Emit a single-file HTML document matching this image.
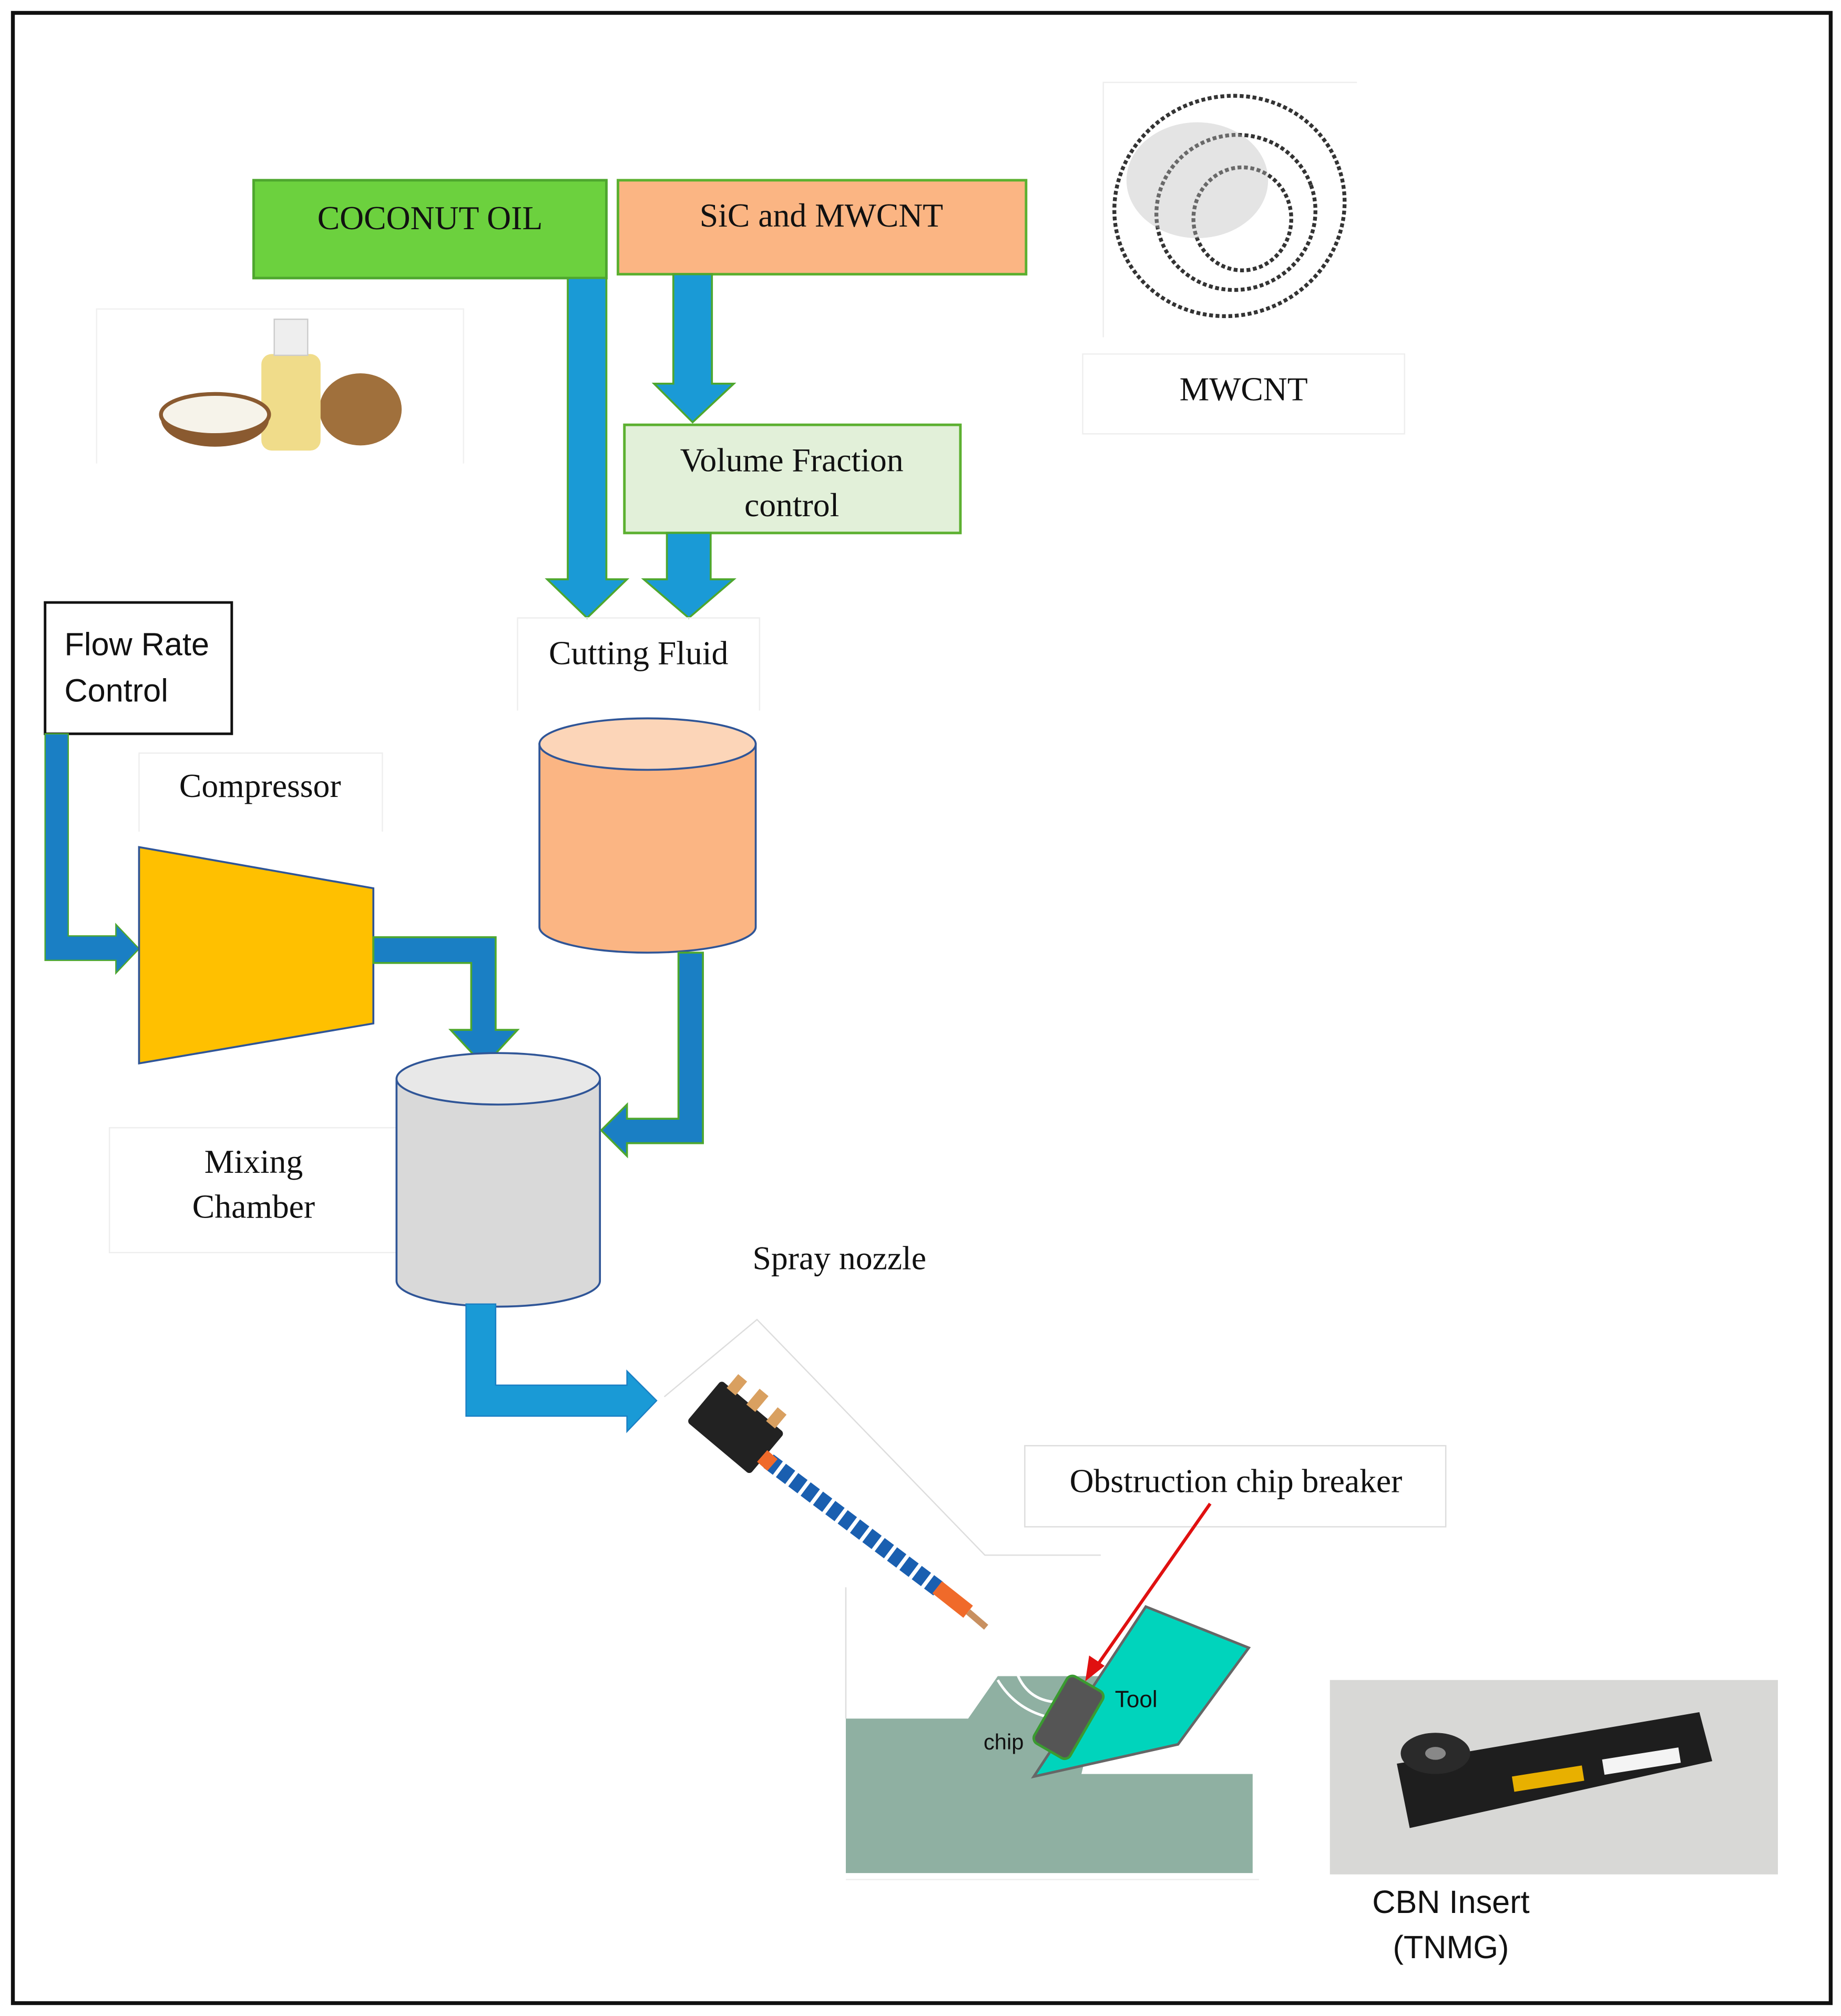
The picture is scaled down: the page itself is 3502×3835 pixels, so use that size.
<!DOCTYPE html>
<html><head><meta charset="utf-8"><style>
html,body{margin:0;padding:0;background:#fff}
svg{display:block}
.s{font-family:"Liberation Serif",serif;fill:#111}
.a{font-family:"Liberation Sans",sans-serif;fill:#111}
</style></head><body>
<svg width="3502" height="3835" viewBox="0 0 1430 1566" xmlns="http://www.w3.org/2000/svg">
<rect x="0" y="0" width="1430" height="1566" fill="#fff"/>
<rect x="10" y="10" width="1412" height="1546" fill="none" stroke="#111" stroke-width="3"/>

<!-- top boxes -->
<rect x="197" y="140" width="274" height="76" fill="#6cd13e" stroke="#4ea72e" stroke-width="2"/>
<text x="334" y="178" class="s" font-size="26" text-anchor="middle">COCONUT OIL</text>
<rect x="480" y="140" width="317" height="73" fill="#fbb583" stroke="#5cb030" stroke-width="2"/>
<text x="638" y="176" class="s" font-size="26" text-anchor="middle">SiC and MWCNT</text>

<!-- arrows from top -->
<path d="M441,216 H471 V450 H487 L456,480 L425,450 H441 Z" fill="#1a9ad6" stroke="#4ea72e" stroke-width="1.5"/>
<path d="M523,213 H553 V298 H570 L538,328 L508,298 H523 Z" fill="#1a9ad6" stroke="#4ea72e" stroke-width="1.5"/>
<rect x="485" y="330" width="261" height="84" fill="#e2f0d9" stroke="#5cb030" stroke-width="2"/>
<text x="615" y="366" class="s" font-size="26" text-anchor="middle">Volume Fraction</text>
<text x="615" y="401" class="s" font-size="26" text-anchor="middle">control</text>
<path d="M518,414 H552 V450 H570 L535,480 L500,450 H518 Z" fill="#1a9ad6" stroke="#4ea72e" stroke-width="1.5"/>

<!-- cutting fluid -->
<path d="M402,552 V480 H590 V552" fill="none" stroke="#eee" stroke-width="1"/>
<text x="496" y="516" class="s" font-size="26" text-anchor="middle">Cutting Fluid</text>
<path d="M419,578 V720 A84,20 0 0 0 587,720 V578 Z" fill="#fbb583" stroke="#2f5597" stroke-width="1.5"/>
<ellipse cx="503" cy="578" rx="84" ry="20" fill="#fcd5b8" stroke="#2f5597" stroke-width="1.5"/>

<!-- flow rate -->
<rect x="35" y="468" width="145" height="102" fill="#fff" stroke="#111" stroke-width="2"/>
<text x="50" y="509" class="a" font-size="25">Flow Rate</text>
<text x="50" y="545" class="a" font-size="25">Control</text>
<path d="M35,570 H53 V727 H90 V718 L108,737 L90,756 V746 H35 Z" fill="#1a7fc4" stroke="#4ea72e" stroke-width="1"/>

<!-- compressor -->
<path d="M108,646 V585 H297 V646" fill="none" stroke="#eee" stroke-width="1"/>
<text x="202" y="619" class="s" font-size="26" text-anchor="middle">Compressor</text>
<polygon points="108,658 290,690 290,795 108,826" fill="#ffc000" stroke="#2f5597" stroke-width="1.5"/>
<path d="M290,728 H385 V800 H402 L376,828 L350,800 H366 V748 H290 Z" fill="#1a7fc4" stroke="#4ea72e" stroke-width="1.5"/>

<!-- mixing chamber -->
<rect x="85" y="876" width="223" height="97" fill="#fff" stroke="#eee" stroke-width="1"/>
<text x="197" y="911" class="s" font-size="26" text-anchor="middle">Mixing</text>
<text x="197" y="946" class="s" font-size="26" text-anchor="middle">Chamber</text>
<path d="M308,838 V995 A79,20 0 0 0 466,995 V838 Z" fill="#d9d9d9" stroke="#2f5597" stroke-width="1.5"/>
<ellipse cx="387" cy="838" rx="79" ry="20" fill="#e8e8e8" stroke="#2f5597" stroke-width="1.5"/>
<path d="M527,740 H546 V888 H487 V898 L467,878 L487,858 V869 H527 Z" fill="#1a7fc4" stroke="#4ea72e" stroke-width="1.5"/>
<path d="M362,1013 H385 V1076 H487 V1065 L510,1088 L487,1112 V1100 H362 Z" fill="#1a9ad6" stroke="#1a7fc4" stroke-width="1"/>

<!-- spray nozzle -->
<text x="652" y="986" class="s" font-size="26" text-anchor="middle">Spray nozzle</text>
<path d="M516,1085 L588,1025 L765,1208 L855,1208 M657,1233 V1335" fill="none" stroke="#ddd" stroke-width="1"/>
<g transform="translate(572,1108) rotate(40)">
<rect x="-32" y="-20" width="64" height="42" fill="#222" rx="3"/>
<rect x="-25" y="-32" width="9" height="14" fill="#d9a060"/>
<rect x="-5" y="-34" width="9" height="16" fill="#d9a060"/>
<rect x="15" y="-32" width="9" height="14" fill="#d9a060"/>
</g>
<line x1="597" y1="1135" x2="730" y2="1235" stroke="#1a5fb0" stroke-width="13" stroke-dasharray="9,3"/>
<line x1="592" y1="1131" x2="600" y2="1138" stroke="#f06a2a" stroke-width="12"/>
<line x1="728" y1="1233" x2="752" y2="1252" stroke="#f06a2a" stroke-width="12"/>
<line x1="752" y1="1252" x2="766" y2="1264" stroke="#c89060" stroke-width="5"/>

<!-- workpiece & tool -->
<polygon points="657,1335 752,1335 775,1302 858,1302 840,1378 973,1378 973,1455 657,1455" fill="#8fb0a2"/>
<path d="M775,1305 Q790,1330 820,1335 M790,1300 Q800,1325 830,1322" fill="none" stroke="#fff" stroke-width="2"/>
<polygon points="803,1380 890,1248 970,1280 915,1355" fill="#00d4bc" stroke="#666" stroke-width="2"/>
<g transform="translate(830,1334) rotate(30)">
<rect x="-16" y="-30" width="32" height="60" rx="5" fill="#555" stroke="#3a9a30" stroke-width="2"/>
</g>
<text x="866" y="1326" class="a" font-size="18">Tool</text>
<text x="764" y="1359" class="a" font-size="17">chip</text>
<path d="M657,1460 H978" stroke="#eee" stroke-width="1"/>

<!-- obstruction -->
<rect x="796" y="1123" width="327" height="63" fill="#fff" stroke="#ddd" stroke-width="1"/>
<text x="960" y="1159" class="s" font-size="26" text-anchor="middle">Obstruction chip breaker</text>
<line x1="940" y1="1168" x2="852" y2="1294" stroke="#e01010" stroke-width="2.5"/>
<polygon points="843,1306 846,1286 858,1294" fill="#e01010"/>

<!-- CBN photo -->
<rect x="1033" y="1305" width="348" height="151" fill="#d8d8d6"/>
<polygon points="1085,1370 1320,1330 1330,1368 1095,1420" fill="#1e1e1e"/>
<ellipse cx="1115" cy="1362" rx="27" ry="16" fill="#2a2a2a"/>
<ellipse cx="1115" cy="1362" rx="8" ry="5" fill="#888"/>
<rect x="1175" y="1376" width="55" height="12" fill="#e8b000" transform="rotate(-9 1200 1382)"/>
<rect x="1245" y="1362" width="60" height="12" fill="#f4f4f4" transform="rotate(-9 1275 1368)"/>
<text x="1127" y="1486" class="a" font-size="25" text-anchor="middle">CBN  Insert</text>
<text x="1127" y="1521" class="a" font-size="25" text-anchor="middle">(TNMG)</text>

<!-- MWCNT image -->
<path d="M857,262 V64 H1054" fill="none" stroke="#eee" stroke-width="1"/>
<g fill="none" stroke="#333" stroke-width="3" stroke-dasharray="3,2">
<ellipse cx="955" cy="160" rx="90" ry="85" transform="rotate(-20 955 160)"/>
<ellipse cx="960" cy="165" rx="62" ry="60" transform="rotate(-20 960 165)"/>
<ellipse cx="965" cy="170" rx="38" ry="40"/>
</g>
<ellipse cx="930" cy="140" rx="55" ry="45" fill="#bbb" opacity="0.4"/>
<rect x="841" y="275" width="250" height="62" fill="#fff" stroke="#eee" stroke-width="1"/>
<text x="966" y="311" class="s" font-size="26" text-anchor="middle">MWCNT</text>

<!-- coconut image -->
<path d="M75,360 V240 H360 V360" fill="none" stroke="#f0f0f0" stroke-width="1"/>
<ellipse cx="280" cy="318" rx="32" ry="28" fill="#a0703c"/>
<rect x="203" y="275" width="46" height="75" rx="8" fill="#f0dc8a"/>
<rect x="213" y="248" width="26" height="28" fill="#eee" stroke="#ccc"/>
<path d="M125,325 A42,22 0 0 0 209,325 Z" fill="#8a5a30"/>
<ellipse cx="167" cy="322" rx="42" ry="16" fill="#f6f3ea" stroke="#8a5a30" stroke-width="3"/>
</svg>
</body></html>
